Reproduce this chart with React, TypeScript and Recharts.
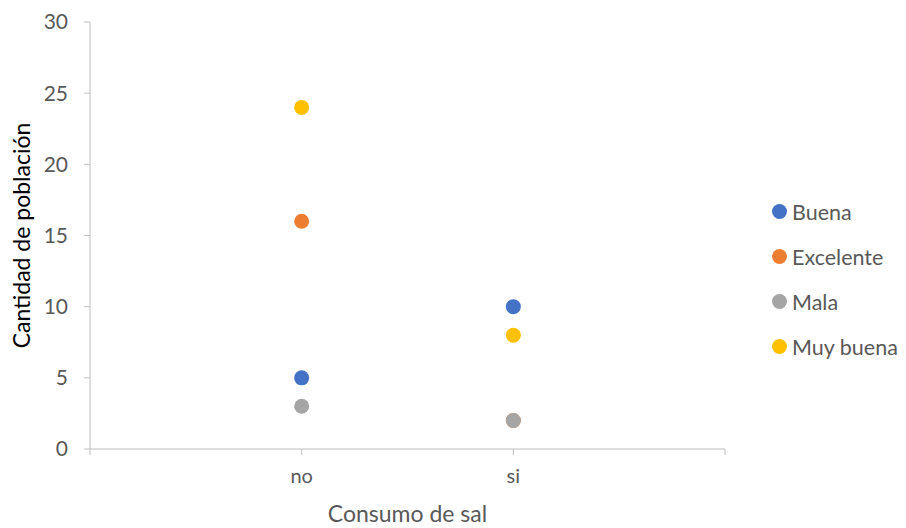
import React from 'react'
import { ScatterChart, Scatter, XAxis, YAxis } from 'recharts'

const categories = ['no', 'si']
const seriesNames = ['Buena', 'Excelente', 'Mala', 'Muy buena']
const buena = [5, 10]
const excelente = [16, 2]
const mala = [3, 2]
const muyBuena = [24, 8]
const yTicks = [0, 5, 10, 15, 20, 25, 30]
const xTicks = [0, 1, 2, 3]

const colors = ['#4472C4', '#ED7D31', '#A5A5A5', '#FFC000']
const font = 'Lato, "Open Sans", sans-serif'

const toPoints = (vals: number[]) => categories.map((c, i) => ({ x: i + 1, y: vals[i], cat: c }))

const series = [buena, excelente, mala, muyBuena].map((vals, i) => ({
  name: seriesNames[i],
  color: colors[i],
  data: toPoints(vals),
}))

const Dot = (props: any) => {
  const { cx, cy, fill } = props
  return <circle cx={cx} cy={cy} r={7.5} fill={fill} />
}

const LegendBox = () => (
  <div
    style={{
      position: 'absolute',
      left: 764,
      top: 181,
      width: 142,
      fontFamily: font,
      fontSize: 21.5,
      color: '#595959',
      whiteSpace: 'nowrap',
    }}
  >
    {series.map((s) => (
      <div key={s.name} style={{ display: 'flex', alignItems: 'center', height: 45 }}>
        <span
          style={{
            width: 15,
            height: 15,
            borderRadius: '50%',
            background: s.color,
            display: 'inline-block',
            marginRight: 5,
            flexShrink: 0,
          }}
        />
        <span>{s.name}</span>
      </div>
    ))}
  </div>
)

export default function App() {
  return (
    <div style={{ position: 'relative', width: 898, height: 520 }}>
      <ScatterChart width={898} height={520} margin={{ top: 14, right: 181, left: 0, bottom: 0 }}>
        <XAxis
          type="number"
          dataKey="x"
          domain={[0, 3]}
          ticks={xTicks}
          tickFormatter={(v: number) => categories[v - 1] ?? ''}
          axisLine={{ stroke: '#BFBFBF' }}
          tickLine={{ stroke: '#BFBFBF' }}
          tickSize={6}
          tickMargin={14}
          tick={{ fontSize: 20, fill: '#595959', fontFamily: font }}
          height={79}
          label={{
            value: 'Consumo de sal',
            position: 'insideBottom',
            offset: 6,
            style: { fontSize: 23, fill: '#595959', fontFamily: font },
          }}
        />
        <YAxis
          type="number"
          dataKey="y"
          domain={[0, 30]}
          ticks={yTicks}
          axisLine={{ stroke: '#BFBFBF' }}
          tickLine={{ stroke: '#BFBFBF' }}
          tickSize={6}
          tickMargin={16}
          width={82}
          tick={{ fontSize: 21, fill: '#595959', fontFamily: font }}
          label={{
            value: 'Cantidad de población',
            angle: -90,
            position: 'insideLeft',
            offset: 14,
            style: { textAnchor: 'middle', fontSize: 23, fill: '#000', fontFamily: font },
          }}
        />
        {series.map((s) => (
          <Scatter
            key={s.name}
            name={s.name}
            data={s.data}
            fill={s.color}
            shape={<Dot />}
            isAnimationActive={false}
          />
        ))}
      </ScatterChart>
      <LegendBox />
    </div>
  )
}
